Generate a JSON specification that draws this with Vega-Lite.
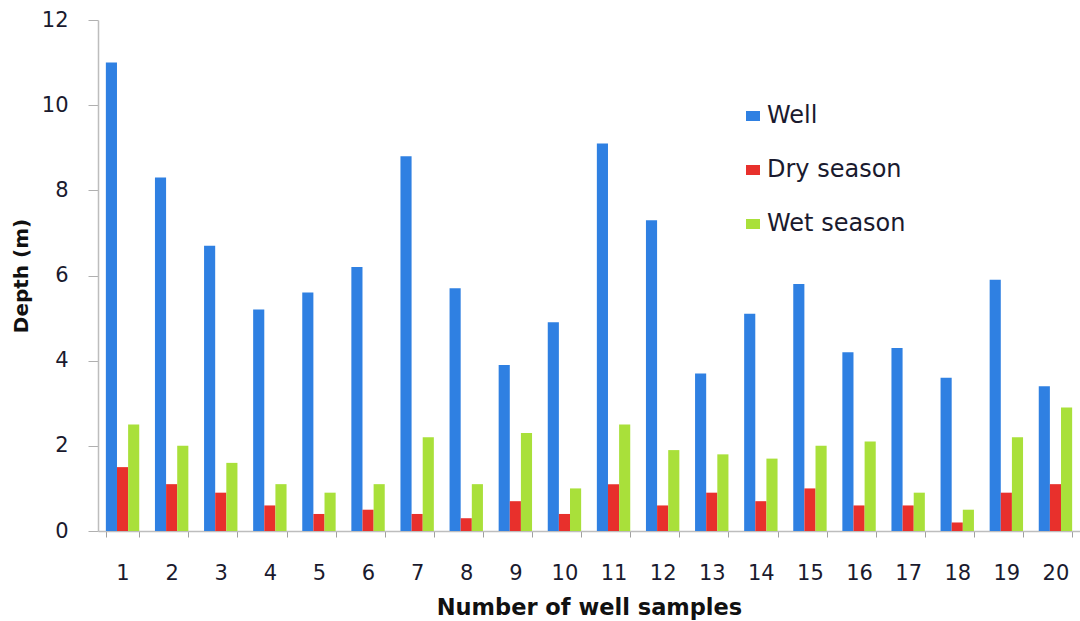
{
  "$schema": "https://vega.github.io/schema/vega-lite/v6.json",
  "width": 982,
  "height": 511,
  "autosize": {"type": "none"},
  "padding": {"left": 98, "top": 20, "right": 0, "bottom": 90},
  "background": "white",
  "config": {
    "view": {"stroke": null},
    "font": "DejaVu Sans"
  },
  "data": {
    "values": [
      {"sample": 1, "series": "Well", "depth": 11.0},
      {"sample": 1, "series": "Dry season", "depth": 1.5},
      {"sample": 1, "series": "Wet season", "depth": 2.5},
      {"sample": 2, "series": "Well", "depth": 8.3},
      {"sample": 2, "series": "Dry season", "depth": 1.1},
      {"sample": 2, "series": "Wet season", "depth": 2.0},
      {"sample": 3, "series": "Well", "depth": 6.7},
      {"sample": 3, "series": "Dry season", "depth": 0.9},
      {"sample": 3, "series": "Wet season", "depth": 1.6},
      {"sample": 4, "series": "Well", "depth": 5.2},
      {"sample": 4, "series": "Dry season", "depth": 0.6},
      {"sample": 4, "series": "Wet season", "depth": 1.1},
      {"sample": 5, "series": "Well", "depth": 5.6},
      {"sample": 5, "series": "Dry season", "depth": 0.4},
      {"sample": 5, "series": "Wet season", "depth": 0.9},
      {"sample": 6, "series": "Well", "depth": 6.2},
      {"sample": 6, "series": "Dry season", "depth": 0.5},
      {"sample": 6, "series": "Wet season", "depth": 1.1},
      {"sample": 7, "series": "Well", "depth": 8.8},
      {"sample": 7, "series": "Dry season", "depth": 0.4},
      {"sample": 7, "series": "Wet season", "depth": 2.2},
      {"sample": 8, "series": "Well", "depth": 5.7},
      {"sample": 8, "series": "Dry season", "depth": 0.3},
      {"sample": 8, "series": "Wet season", "depth": 1.1},
      {"sample": 9, "series": "Well", "depth": 3.9},
      {"sample": 9, "series": "Dry season", "depth": 0.7},
      {"sample": 9, "series": "Wet season", "depth": 2.3},
      {"sample": 10, "series": "Well", "depth": 4.9},
      {"sample": 10, "series": "Dry season", "depth": 0.4},
      {"sample": 10, "series": "Wet season", "depth": 1.0},
      {"sample": 11, "series": "Well", "depth": 9.1},
      {"sample": 11, "series": "Dry season", "depth": 1.1},
      {"sample": 11, "series": "Wet season", "depth": 2.5},
      {"sample": 12, "series": "Well", "depth": 7.3},
      {"sample": 12, "series": "Dry season", "depth": 0.6},
      {"sample": 12, "series": "Wet season", "depth": 1.9},
      {"sample": 13, "series": "Well", "depth": 3.7},
      {"sample": 13, "series": "Dry season", "depth": 0.9},
      {"sample": 13, "series": "Wet season", "depth": 1.8},
      {"sample": 14, "series": "Well", "depth": 5.1},
      {"sample": 14, "series": "Dry season", "depth": 0.7},
      {"sample": 14, "series": "Wet season", "depth": 1.7},
      {"sample": 15, "series": "Well", "depth": 5.8},
      {"sample": 15, "series": "Dry season", "depth": 1.0},
      {"sample": 15, "series": "Wet season", "depth": 2.0},
      {"sample": 16, "series": "Well", "depth": 4.2},
      {"sample": 16, "series": "Dry season", "depth": 0.6},
      {"sample": 16, "series": "Wet season", "depth": 2.1},
      {"sample": 17, "series": "Well", "depth": 4.3},
      {"sample": 17, "series": "Dry season", "depth": 0.6},
      {"sample": 17, "series": "Wet season", "depth": 0.9},
      {"sample": 18, "series": "Well", "depth": 3.6},
      {"sample": 18, "series": "Dry season", "depth": 0.2},
      {"sample": 18, "series": "Wet season", "depth": 0.5},
      {"sample": 19, "series": "Well", "depth": 5.9},
      {"sample": 19, "series": "Dry season", "depth": 0.9},
      {"sample": 19, "series": "Wet season", "depth": 2.2},
      {"sample": 20, "series": "Well", "depth": 3.4},
      {"sample": 20, "series": "Dry season", "depth": 1.1},
      {"sample": 20, "series": "Wet season", "depth": 2.9}
    ]
  },
  "mark": {"type": "bar"},
  "encoding": {
    "x": {
      "field": "sample",
      "type": "ordinal",
      "scale": {"paddingInner": 0.32, "paddingOuter": 0.16},
      "axis": {
        "title": "Number of well samples",
        "titleFontSize": 22.5,
        "titleFontWeight": "bold",
        "titleColor": "#111111",
        "titlePadding": 13,
        "labelAngle": 0,
        "labelFontSize": 21,
        "labelColor": "#1a1a2e",
        "labelPadding": 25,
        "tickBand": "extent",
        "tickSize": 6,
        "tickColor": "#a0a0a0",
        "domainColor": "#bdbdbd",
        "domainWidth": 1.5
      }
    },
    "xOffset": {
      "field": "series",
      "type": "nominal",
      "sort": ["Well", "Dry season", "Wet season"],
      "scale": {"paddingInner": 0, "paddingOuter": 0}
    },
    "y": {
      "field": "depth",
      "type": "quantitative",
      "scale": {"domain": [0, 12], "nice": false},
      "axis": {
        "title": "Depth (m)",
        "titleFontSize": 20,
        "titleFontWeight": "bold",
        "titleColor": "#111111",
        "titlePadding": 10,
        "values": [0, 2, 4, 6, 8, 10, 12],
        "grid": false,
        "labelFontSize": 21,
        "labelColor": "#1a1a2e",
        "labelPadding": 20,
        "tickSize": 10,
        "tickColor": "#b0b0b0",
        "domainColor": "#bdbdbd",
        "domainWidth": 1.5
      }
    },
    "color": {
      "field": "series",
      "type": "nominal",
      "sort": ["Well", "Dry season", "Wet season"],
      "scale": {
        "domain": ["Well", "Dry season", "Wet season"],
        "range": ["#2f80e2", "#e8302c", "#a9e03a"]
      },
      "legend": {
        "title": null,
        "orient": "none",
        "legendX": 643,
        "legendY": 84,
        "labelFontSize": 24,
        "labelColor": "#1a1a2e",
        "symbolType": "M-1.4,-1H1.4V1H-1.4Z",
        "symbolSize": 100,
        "symbolStrokeWidth": 0,
        "rowPadding": 30,
        "labelOffset": 2
      }
    }
  }
}
